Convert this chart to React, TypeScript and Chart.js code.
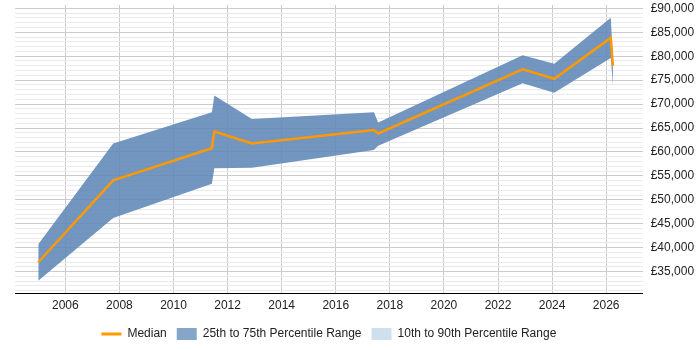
import React, { useEffect, useRef } from "react";
import { Chart, registerables } from "chart.js";

Chart.register(...registerables);

// Sample dates (decimal years) with salary percentiles
const years = [2005.0, 2007.77, 2011.42, 2011.51, 2012.9, 2017.41, 2017.57, 2022.91, 2024.08, 2026.17, 2026.25];
const p75 = [40730, 61750, 68270, 71780, 66880, 68270, 66160, 80180, 78440, 88020, 79500];
const median = [36950, 54060, 60780, 64270, 61750, 64570, 63850, 77240, 75290, 83820, 78000];
const p25 = [33100, 46190, 53340, 56580, 56700, 60400, 61300, 74360, 72340, 79620, 73900];

const xTickYears = [2006, 2008, 2010, 2012, 2014, 2016, 2018, 2020, 2022, 2024, 2026];
const yGridStep = 1000;
const yLabelStep = 5000;
const yMin = 30400;
const yMax = 90700;

const legendLabels = ["Median", "25th to 75th Percentile Range", "10th to 90th Percentile Range"];

const ORANGE = "#ff9900";
const BAND = "rgba(95,135,183,0.88)";
const BAND_LEGEND = "#86a6c9";
const OUTER_LEGEND = "#cfdfee";

const toPoints = (vals: number[]) => vals.map((v, i) => ({ x: years[i], y: v }));

// Centre the legend under the plot area rather than the whole canvas
const legendUnderPlot = {
  id: "legendUnderPlot",
  beforeDraw(chart: any) {
    const lg = chart.legend;
    const area = chart.chartArea;
    if (!lg || !area) return;
    lg.left = area.left;
    lg.right = area.right;
    lg.width = area.right - area.left;
  },
};

export default function App() {
  const canvasRef = useRef<HTMLCanvasElement | null>(null);

  useEffect(() => {
    document.body.style.margin = "0";
    const canvas = canvasRef.current;
    if (!canvas) return;
    const font = { family: "'Liberation Sans', Arial, sans-serif", size: 12 };

    const chart = new Chart(canvas, {
      type: "line",
      plugins: [legendUnderPlot],
      data: {
        datasets: [
          {
            label: legendLabels[0],
            data: toPoints(median),
            borderColor: ORANGE,
            backgroundColor: ORANGE,
            borderWidth: 2.5,
            pointRadius: 0,
            fill: false,
            tension: 0,
            order: 0,
          },
          {
            label: "p75",
            data: toPoints(p75),
            borderWidth: 0,
            borderColor: "rgba(0,0,0,0)",
            backgroundColor: BAND,
            pointRadius: 0,
            fill: 2,
            tension: 0,
            order: 1,
          },
          {
            label: "p25",
            data: toPoints(p25),
            borderWidth: 0,
            borderColor: "rgba(0,0,0,0)",
            backgroundColor: BAND,
            pointRadius: 0,
            fill: false,
            tension: 0,
            order: 2,
          },
        ],
      },
      options: {
        animation: false,
        responsive: true,
        maintainAspectRatio: false,
        layout: { padding: { left: 15, top: 5, right: 0, bottom: 0 } },
        plugins: {
          tooltip: { enabled: false },
          legend: {
            position: "bottom",
            labels: {
              font,
              color: "#222",
              usePointStyle: true,
              pointStyleWidth: 20,
              boxHeight: 12,
              padding: 10,
              generateLabels: () => [
                {
                  text: legendLabels[0],
                  fillStyle: ORANGE,
                  strokeStyle: ORANGE,
                  lineWidth: 3,
                  pointStyle: "line",
                  hidden: false,
                  datasetIndex: 0,
                  fontColor: "#222",
                },
                {
                  text: legendLabels[1],
                  fillStyle: BAND_LEGEND,
                  strokeStyle: BAND_LEGEND,
                  lineWidth: 0,
                  pointStyle: "rect",
                  hidden: false,
                  datasetIndex: 1,
                  fontColor: "#222",
                },
                {
                  text: legendLabels[2],
                  fillStyle: OUTER_LEGEND,
                  strokeStyle: OUTER_LEGEND,
                  lineWidth: 0,
                  pointStyle: "rect",
                  hidden: false,
                  datasetIndex: 2,
                  fontColor: "#222",
                },
              ],
            },
            onClick: () => {},
          },
        },
        scales: {
          x: {
            type: "linear",
            min: 2004.14,
            max: 2027.35,
            afterBuildTicks: (scale: any) => {
              scale.ticks = xTickYears.map((v) => ({ value: v }));
            },
            afterFit: (scale: any) => {
              scale.paddingLeft = 0;
              scale.paddingRight = 0;
            },
            ticks: {
              font,
              color: "#222",
              padding: 5,
              maxRotation: 0,
              autoSkip: false,
              callback: (v: any) => String(v),
            },
            grid: { color: "#cccccc", drawTicks: false },
            border: { display: true, color: "#000000", width: 1 },
          },
          y: {
            position: "right",
            min: yMin,
            max: yMax,
            afterBuildTicks: (scale: any) => {
              const t = [];
              for (let v = Math.ceil(yMin / yGridStep) * yGridStep; v <= yMax; v += yGridStep) {
                t.push({ value: v });
              }
              scale.ticks = t;
            },
            afterFit: (scale: any) => {
              scale.width = 57.3;
              scale.paddingTop = 0;
              scale.paddingBottom = 0;
            },
            ticks: {
              font,
              color: "#222",
              padding: 8,
              autoSkip: false,
              callback: (v: any) =>
                Number(v) % yLabelStep === 0 ? "£" + Number(v).toLocaleString("en-GB") : "",
            },
            grid: {
              drawTicks: false,
              color: (ctx: any) =>
                ctx.tick && ctx.tick.value % yLabelStep === 0 ? "#cccccc" : "#eaeaea",
            },
            border: { display: false },
          },
        },
      },
    });

    return () => chart.destroy();
  }, []);

  return (
    <div style={{ position: "relative", width: 700, height: 350 }}>
      <canvas ref={canvasRef} />
    </div>
  );
}
